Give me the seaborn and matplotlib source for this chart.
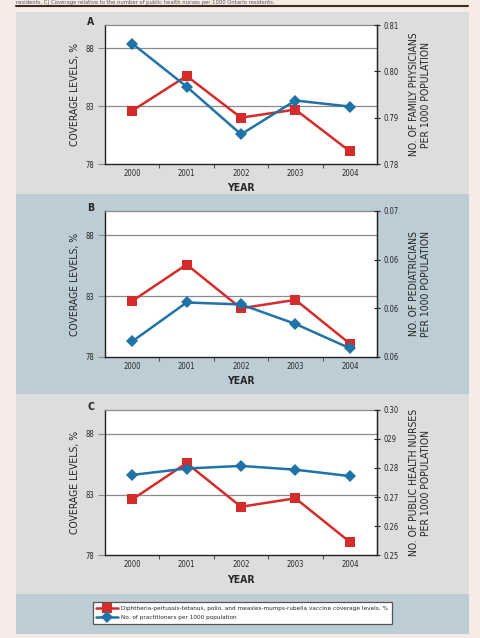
import matplotlib
matplotlib.use("Agg")
import matplotlib.pyplot as plt
from matplotlib.patches import Rectangle
import seaborn as sns

sns.set_style("white")
plt.rcParams['font.family'] = ['DejaVu Sans']
plt.rcParams['font.stretch'] = 'condensed'

W, H = 481, 638

years = [2000, 2001, 2002, 2003, 2004]
coverage = [82.6, 85.6, 82.0, 82.7, 79.1]
family_phys = [0.806, 0.7967, 0.7864, 0.7937, 0.7924]
pediatricians = [0.0566, 0.0606, 0.0604, 0.0584, 0.0559]
nurses = [0.2776, 0.2798, 0.2807, 0.2794, 0.2772]

left_ticks = [78, 83, 88]
right_ticks_a = [0.78, 0.79, 0.80, 0.81]
right_labels_a = ["0.78", "0.79", "0.80", "0.81"]
right_ticks_b = [0.055, 0.060, 0.065, 0.070]
right_labels_b = ["0.06", "0.06", "0.06", "0.07"]
right_ticks_c = [0.25, 0.26, 0.27, 0.28, 0.29, 0.30]
right_labels_c = ["0.25", "0.26", "0.27", "0.28", "029", "0.30"]

legend_labels = ["Diphtheria-pertussis-tetanus, polio, and measles-mumps-rubella vaccine coverage levels, %",
                 "No. of practitioners per 1000 population"]

RED = "#d42b2b"
BLUE = "#1f73a6"
GRAY_BG = "#dcdddc"
BLUE_BG = "#bccdd5"
CREAM = "#f6ece5"


def fx(x):
    return x / W


def fy(y):
    return 1 - y / H


fig = plt.figure(figsize=(W / 100, H / 100), dpi=100, facecolor=CREAM)

# background panels
for top, bot, col in [(12, 194, GRAY_BG), (194, 394, BLUE_BG), (394, 594, GRAY_BG), (594, 634, BLUE_BG)]:
    fig.patches.append(Rectangle((fx(16), fy(bot)), fx(469) - fx(16), fy(top) - fy(bot),
                                 transform=fig.transFigure, facecolor=col, edgecolor='none', zorder=-5))

# caption line above the rule
fig.text(fx(16), fy(0.3), "residents. C) Coverage relative to the number of public health nurses per 1000 Ontario residents.",
         fontsize=4.2, color="#555555", va='top', ha='left')
fig.add_artist(plt.Line2D([fx(16), fx(468)], [fy(5.5), fy(5.5)], transform=fig.transFigure,
                          color="#3d2b22", lw=1.5))


def panel(top, bot, letter, blue_vals, rticks, rlabels, rlabel):
    ax = fig.add_axes([fx(105), fy(bot), fx(377) - fx(105), fy(top) - fy(bot)])
    ax.set_facecolor("white")
    ax.set_xlim(1999.5, 2004.5)
    ax.set_ylim(78, 90)
    for y in [83, 88]:
        ax.axhline(y, color="#8a8a8a", lw=0.9, zorder=1)
    sns.lineplot(x=years, y=coverage, ax=ax, color=RED, marker='s', markersize=6.8,
                 markeredgewidth=0, linewidth=1.8, zorder=3)
    ax.set_yticks(left_ticks)
    ax.set_yticklabels([str(t) for t in left_ticks])
    ax.tick_params(axis='y', direction='out', length=5, width=0.8, color="#8a8a8a",
                   labelsize=5.5, pad=3, left=True)
    ax.set_xticks(years)
    ax.set_xticklabels([str(y) for y in years])
    ax.set_xticks([1999.5 + i for i in range(1, 5)], minor=True)
    ax.tick_params(axis='x', which='major', length=0, labelsize=5.5, pad=3.5, bottom=True)
    ax.tick_params(axis='x', which='minor', direction='out', length=3, width=0.8,
                   color="#555555", bottom=True)
    ax.set_xlabel("YEAR", fontsize=7.5, fontweight='bold', labelpad=4)
    ax.set_ylabel("COVERAGE LEVELS, %", fontsize=7.5, labelpad=4)
    for s in ['left', 'bottom']:
        ax.spines[s].set_color("#222222")
        ax.spines[s].set_linewidth(1.0)
    ax.spines['top'].set_color("#8a8a8a")
    ax.spines['top'].set_linewidth(0.9)

    ax2 = ax.twinx()
    sns.lineplot(x=years, y=blue_vals, ax=ax2, color=BLUE, marker='D', markersize=6.2,
                 markeredgewidth=0, linewidth=1.8, zorder=4)
    ax2.set_ylim(rticks[0], rticks[-1])
    ax2.set_yticks(rticks)
    ax2.set_yticklabels(rlabels)
    ax2.tick_params(axis='y', direction='inout', length=5, width=0.8, color="#222222",
                    labelsize=5.5, pad=2, right=True)
    ax2.set_ylabel(rlabel, fontsize=7.5, labelpad=7.5, rotation=90, linespacing=1.2)
    ax2.spines['right'].set_color("#222222")
    ax2.spines['right'].set_linewidth(1.0)
    for s in ['top', 'left', 'bottom']:
        ax2.spines[s].set_visible(False)

    fig.text(fx(91), fy(top - 3), letter, fontsize=7.5, fontweight='bold', ha='center', va='center')
    return ax, ax2


axA = panel(25, 164, "A", family_phys, right_ticks_a, right_labels_a,
            "NO. OF FAMILY PHYSICIANS\nPER 1000 POPULATION")
axB = panel(211, 357, "B", pediatricians, right_ticks_b, right_labels_b,
            "NO. OF PEDIATRICIANS\nPER 1000 POPULATION")
axC = panel(409.7, 555.3, "C", nurses, right_ticks_c, right_labels_c,
            "NO. OF PUBLIC HEALTH NURSES\nPER 1000 POPULATION")

handles = [axC[0].lines[-1], axC[1].lines[-1]]
leg = fig.legend(handles, legend_labels, loc='center', bbox_to_anchor=(fx(242.5), fy(613)),
                 fontsize=4.6, frameon=True, fancybox=False, edgecolor="#555555",
                 framealpha=1, handlelength=3.3, handletextpad=0.6, borderpad=0.5,
                 labelspacing=0.6)
leg.get_frame().set_linewidth(0.9)

fig.savefig("out.png", dpi=100, facecolor=CREAM)
